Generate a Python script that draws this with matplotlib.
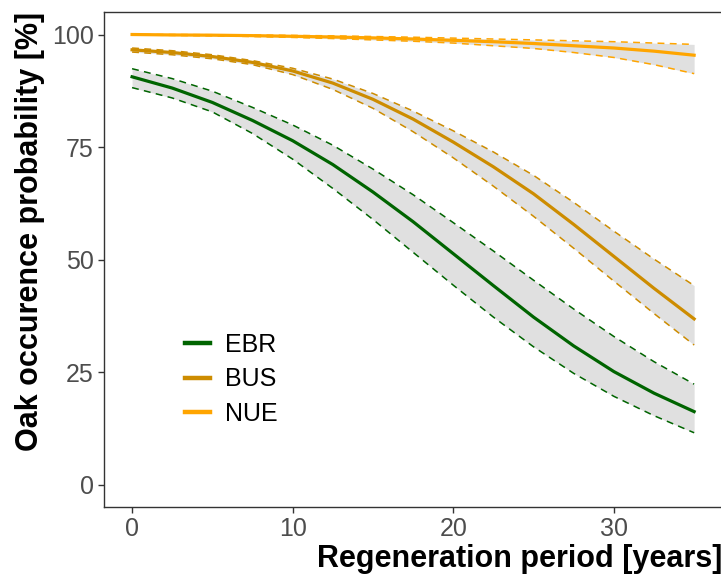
import matplotlib
matplotlib.use("Agg")
import matplotlib.pyplot as plt

plt.rcParams['font.family'] = ['Liberation Sans', 'DejaVu Sans']

years = [0, 2.5, 5, 7.5, 10, 12.5, 15, 17.5, 20, 22.5, 25, 27.5, 30, 32.5, 35]

# predicted probability with lower / upper confidence limits
ebr_fit = [90.6, 88.1, 84.9, 80.9, 76.4, 71.1, 65.0, 58.4, 51.3, 44.2, 37.2, 30.8, 25.1, 20.3, 16.2]
ebr_lo = [88.2, 85.9, 82.8, 78.0, 72.3, 65.8, 58.9, 51.6, 44.3, 37.2, 30.6, 24.7, 19.6, 15.3, 11.5]
ebr_hi = [92.4, 90.2, 87.4, 83.8, 79.9, 75.4, 70.1, 64.4, 58.2, 51.9, 45.4, 39.0, 32.9, 27.3, 22.3]

bus_fit = [96.6, 96.0, 95.1, 93.8, 91.9, 89.2, 85.6, 81.2, 76.1, 70.6, 64.6, 57.8, 50.7, 43.6, 36.8]
bus_lo = [96.1, 95.5, 94.6, 93.3, 91.1, 87.8, 83.6, 78.4, 72.6, 66.3, 59.6, 52.5, 45.2, 38.0, 31.0]
bus_hi = [97.0, 96.4, 95.5, 94.2, 92.5, 90.1, 86.9, 83.0, 78.6, 73.9, 68.7, 62.7, 56.3, 50.1, 44.2]

nue_fit = [100.0, 99.9, 99.85, 99.75, 99.6, 99.45, 99.25, 99.0, 98.7, 98.4, 98.0, 97.5, 97.0, 96.3, 95.4]
nue_lo = [99.9, 99.8, 99.7, 99.55, 99.35, 99.1, 98.8, 98.5, 98.1, 97.5, 96.9, 96.0, 94.9, 93.3, 91.3]
nue_hi = [100.0, 100.0, 99.95, 99.9, 99.8, 99.7, 99.55, 99.4, 99.2, 99.0, 98.8, 98.6, 98.4, 98.1, 97.8]

sites = ['EBR', 'BUS', 'NUE']
colors = ['#006400', '#CD8C00', '#FFA500']


def main():
    fig = plt.figure(figsize=(7.21, 5.77), dpi=100)
    ax = fig.add_axes([0.1442, 0.1213, 0.8575, 0.8579])

    series = [(ebr_fit, ebr_lo, ebr_hi), (bus_fit, bus_lo, bus_hi), (nue_fit, nue_lo, nue_hi)]

    # ribbons first
    for fit, lo, hi in series:
        ax.fill_between(years, lo, hi, color='#E0E0E0', linewidth=0, zorder=1)

    for (fit, lo, hi), name, col in zip(series, sites, colors):
        ax.plot(years, lo, color=col, linestyle=(0, (4.5, 3.5)), linewidth=1.1, zorder=2)
        ax.plot(years, hi, color=col, linestyle=(0, (4.5, 3.5)), linewidth=1.1, zorder=2)
        ax.plot(years, fit, color=col, linewidth=2.3, label=name, zorder=3)

    ax.set_xlim(-1.75, 36.75)
    ax.set_ylim(-5, 105)
    ax.set_xticks([0, 10, 20, 30])
    ax.set_yticks([0, 25, 50, 75, 100])
    ax.tick_params(axis='both', direction='out', length=4.5, width=1.0,
                   color='#333333', labelcolor='#4D4D4D', labelsize=18, pad=3)
    for sp in ax.spines.values():
        sp.set_color('#333333')
        sp.set_linewidth(1.0)

    ax.set_xlabel("Regeneration period [years]", fontsize=22, fontweight='bold',
                  loc='right', labelpad=2)
    ax.set_ylabel("Oak occurence probability [%]", fontsize=22, fontweight='bold',
                  loc='top', labelpad=5)

    leg = ax.legend(loc='center left', bbox_to_anchor=(0.095, 0.258), frameon=False,
                    fontsize=18, handlelength=1.0, handletextpad=0.6,
                    labelspacing=0.42)
    for h in leg.get_lines():
        h.set_linewidth(3.2)

    fig.savefig("out.png", dpi=100)


if __name__ == "__main__":
    main()
